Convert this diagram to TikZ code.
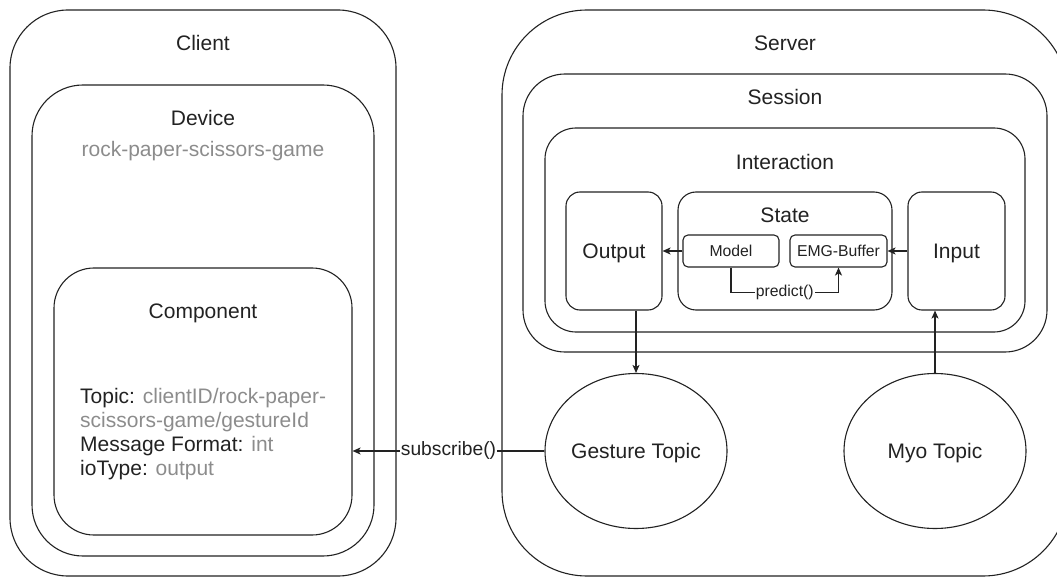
\documentclass[tikz,border=0pt]{standalone}
\usepackage{fontspec}
\setmainfont{Liberation Sans}
\usetikzlibrary{shapes.geometric,arrows.meta}
\definecolor{ink}{HTML}{222222}
\definecolor{muted}{HTML}{8C8C8C}
\begin{document}
\begin{tikzpicture}[x=1pt,y=-1pt,
  box/.style={draw=ink, line width=1.1pt, inner sep=0pt},
  oval/.style={draw=ink, line width=1.1pt, inner sep=0pt, ellipse, minimum width=182pt, minimum height=155pt},
  big/.style={font=\fontsize{21}{25}\selectfont, text=ink, inner sep=0pt, text height=15pt, text depth=0pt},
  small/.style={font=\fontsize{15.75}{18}\selectfont, text=ink, inner sep=0pt, text height=11.3pt, text depth=0pt},
  elabel/.style={font=\fontsize{19.25}{22}\selectfont, text=ink, fill=white, inner sep=1pt},
  plabel/.style={font=\fontsize{15.75}{18}\selectfont, text=ink, fill=white, inner sep=1pt},
  arr/.style={draw=ink, line width=1.1pt, -{Stealth[length=8pt,width=7pt,inset=2pt]}},
]
\useasboundingbox (0,0) rectangle (1057,577);
\clip (0,0) rectangle (1057,577);

% Client side
\node[box, minimum width=386pt, minimum height=566pt, rounded corners=58pt] (client) at (203,293) {};
\node[box, minimum width=342pt, minimum height=471pt, rounded corners=51pt] (device) at (203,320.5) {};
\node[box, minimum width=298pt, minimum height=267pt, rounded corners=40pt] (component) at (203,401.5) {};
\node[big] (clientlbl) at (203,43) {Client};
\node[big] (devicelbl) at (203,118) {Device};
\node[big, text=muted] (devicename) at (203,149) {rock-paper-scissors-game};
\node[big] (componentlbl) at (203,311) {Component};
\node[anchor=north west, inner sep=0pt, align=left, font=\fontsize{21}{24}\selectfont, text=ink] (comptext) at (80,388)
  {Topic: \textcolor{muted}{clientID/rock-paper-}\\\textcolor{muted}{scissors-game/gestureId}\\Message Format: \textcolor{muted}{int}\\ioType: \textcolor{muted}{output}};

% Server side
\node[box, minimum width=566pt, minimum height=566pt, rounded corners=85pt] (server) at (785,293) {};
\node[box, minimum width=524pt, minimum height=278pt, rounded corners=42pt] (session) at (785,213) {};
\node[box, minimum width=480pt, minimum height=204pt, rounded corners=31pt] (interaction) at (785,230) {};
\node[box, minimum width=96pt, minimum height=118pt, rounded corners=14pt] (output) at (614,251) {};
\node[box, minimum width=214pt, minimum height=118pt, rounded corners=18pt] (state) at (785,251) {};
\node[box, minimum width=97pt, minimum height=118pt, rounded corners=14pt] (input) at (956.5,251) {};
\node[box, minimum width=96pt, minimum height=32pt, rounded corners=5pt] (model) at (731,251) {};
\node[box, minimum width=97pt, minimum height=32pt, rounded corners=5pt] (emg) at (838.5,251) {};
\node[oval] (gesture) at (636,451) {};
\node[oval] (myo) at (935,451) {};

\node[big] (serverlbl) at (785,43) {Server};
\node[big] (sessionlbl) at (785,97) {Session};
\node[big] (interactionlbl) at (785,162) {Interaction};
\node[big] (statelbl) at (785,215) {State};
\node[big] (outputlbl) at (614,251) {Output};
\node[big] (inputlbl) at (956.5,251) {Input};
\node[small] (modellbl) at (731,251) {Model};
\node[small] (emglbl) at (838.5,251) {EMG-Buffer};
\node[big] (gesturelbl) at (636,451) {Gesture Topic};
\node[big] (myolbl) at (935,451) {Myo Topic};

% Connectors
\draw[arr] (model.west) -- (output.east);
\draw[arr] (input.west) -- (emg.east);
\draw[arr] (model.south) -- ++(0,25) -| node[plabel, pos=0.25] {predict()} (emg.south);
\draw[arr] (gesture.north |- output.south) -- (gesture.north);
\draw[arr] (myo.north) -- (myo.north |- input.south);
\draw[arr] (gesture.west) -- node[elabel] {subscribe()} (gesture.west -| component.east);
\end{tikzpicture}
\end{document}
